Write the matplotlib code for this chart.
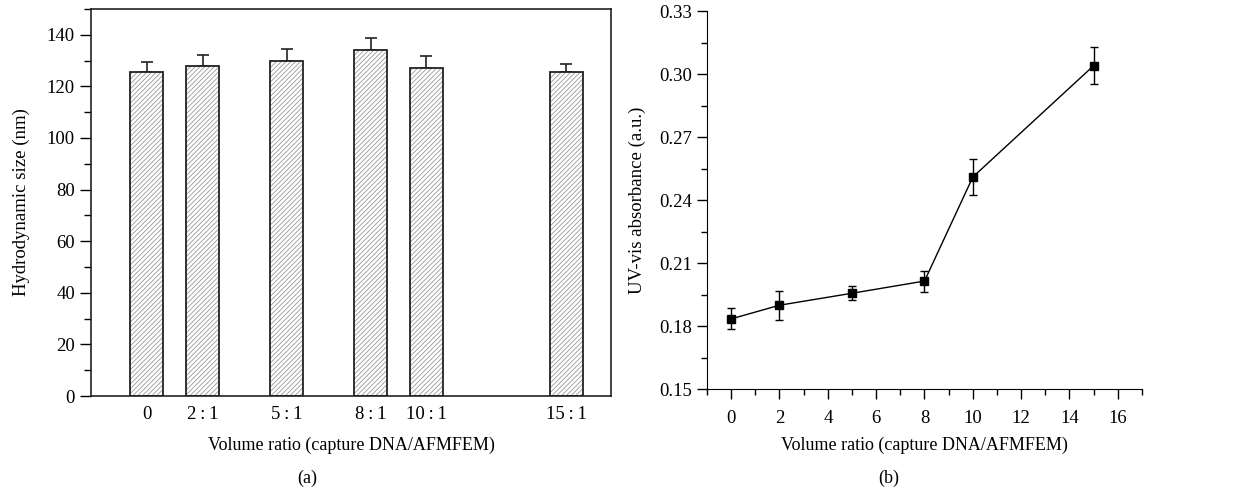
import matplotlib.pyplot as plt
from matplotlib.ticker import MultipleLocator

plt.rcParams['font.family'] = ['Liberation Serif', 'DejaVu Serif']
plt.rcParams['hatch.linewidth'] = 0.6

# panel (a): hydrodynamic size
ratio_pos = [0, 2, 5, 8, 10, 15]
ratio_labels = ['0', '2\u2009:\u20091', '5\u2009:\u20091', '8\u2009:\u20091',
                '10\u2009:\u20091', '15\u2009:\u20091']
size_nm = [125.5, 127.8, 130.0, 134.0, 127.0, 125.6]
size_err = [4.0, 4.2, 4.4, 4.7, 4.8, 3.1]

# panel (b): UV-vis absorbance
ratio_x = [0, 2, 5, 8, 10, 15]
absorb = [0.1835, 0.1900, 0.1957, 0.2015, 0.2510, 0.3040]
absorb_err = [0.0050, 0.0068, 0.0033, 0.0050, 0.0087, 0.0087]

W, H = 1241, 498
fig = plt.figure(figsize=(W / 100, H / 100), dpi=100)

ax1 = fig.add_axes([91 / W, (H - 396) / H, (611 - 91) / W, (396 - 9) / H])
ax1.bar(ratio_pos, size_nm, width=1.18, color='white', edgecolor='#999999',
        hatch='///////', linewidth=0, zorder=2)
ax1.bar(ratio_pos, size_nm, width=1.18, fill=False, edgecolor='#222222',
        linewidth=1.3, zorder=3)
ax1.errorbar(ratio_pos, size_nm, yerr=[[0] * len(size_err), size_err], fmt='none',
             ecolor='#222222', elinewidth=1.2, capsize=4, capthick=1.2, zorder=1)
ax1.set_xlim(-2, 16.6)
ax1.set_ylim(0, 150)
ax1.set_xticks(ratio_pos)
ax1.set_xticklabels(ratio_labels)
ax1.tick_params(axis='x', length=0, pad=7, labelsize=13.5)
ax1.yaxis.set_major_locator(MultipleLocator(20))
ax1.yaxis.set_minor_locator(MultipleLocator(10))
ax1.tick_params(axis='y', which='major', length=8, width=1, labelsize=13.5)
ax1.tick_params(axis='y', which='minor', length=5, width=1)
ax1.set_ylabel('Hydrodynamic size (nm)', fontsize=13.5)
ax1.yaxis.set_label_coords(-61 / 520, 0.5)
ax1.set_xlabel('Volume ratio (capture DNA/AFMFEM)', fontsize=13)
ax1.xaxis.set_label_coords(0.5, -(437 - 396) / 387)
for sp in ax1.spines.values():
    sp.set_linewidth(1.2)
    sp.set_color('#222222')

ax2 = fig.add_axes([707 / W, (H - 389.3) / H, (1142 - 707) / W, (389.3 - 11) / H])
ax2.errorbar(ratio_x, absorb, yerr=absorb_err, fmt='-s', color='black',
             markersize=6, linewidth=1, elinewidth=1, capsize=3, capthick=1)
ax2.set_xlim(-1, 17)
ax2.set_ylim(0.15, 0.33)
ax2.xaxis.set_major_locator(MultipleLocator(2))
ax2.xaxis.set_minor_locator(MultipleLocator(1))
ax2.yaxis.set_major_locator(MultipleLocator(0.03))
ax2.yaxis.set_minor_locator(MultipleLocator(0.015))
ax2.yaxis.set_major_formatter(plt.FormatStrFormatter('%.2f'))
ax2.tick_params(which='major', length=7, width=1, labelsize=13.5)
ax2.tick_params(which='minor', length=4, width=1)
ax2.tick_params(axis='x', pad=8)
ax2.spines['top'].set_visible(False)
ax2.spines['right'].set_visible(False)
ax2.set_ylabel('UV-vis absorbance (a.u.)', fontsize=13.5)
ax2.yaxis.set_label_coords(-61 / 435, 0.5)
ax2.set_xlabel('Volume ratio (capture DNA/AFMFEM)', fontsize=13)
ax2.xaxis.set_label_coords(0.5, -(437 - 389.3) / 378.3)

fig.text(307 / W, 1 - 478 / H, '(a)', ha='center', va='center', fontsize=13)
fig.text(889 / W, 1 - 478 / H, '(b)', ha='center', va='center', fontsize=13)

fig.savefig('out.png', dpi=100)
